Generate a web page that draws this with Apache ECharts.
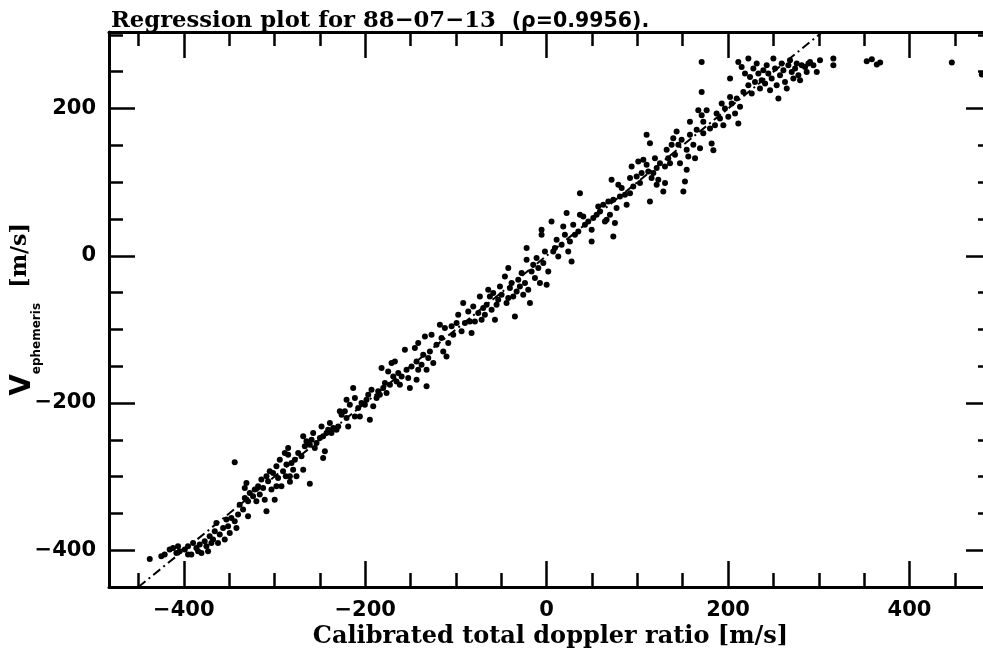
<!DOCTYPE html>
<html>
<head>
<meta charset="utf-8">
<script src="https://cdn.jsdelivr.net/npm/echarts@6/dist/echarts.min.js"></script>
<style>html,body{margin:0;padding:0;background:#fff}#c{width:983px;height:652px}</style>
</head>
<body>
<div id="c"></div>
<script>
// ---- data ----
const X_VALUES = [
-437.6,-343.9,-424.8,-421.1,-415.6,-411.9,-408.2,-404.5,-399.0,-395.4,-391.7,-389.8,-386.2,-382.5,-380.6,-377.0,-373.3,-371.5,-367.8,-365.9,
-364.1,-362.3,-360.4,-356.7,-354.9,-353.1,-351.2,-349.4,-347.6,-343.9,-342.0,-340.2,-338.4,-334.7,-332.8,-331.0,-329.2,-329.2,-327.3,-323.7,
-321.8,-320.0,-318.1,-316.3,-314.5,-312.6,-310.8,-308.9,-308.9,-307.1,-305.3,-303.4,-301.6,-299.8,-297.9,-296.1,-294.2,-292.4,-290.6,-288.7,
-286.9,-285.0,-287.6,-297.9,-332.8,-406.4,-395.4,-384.3,-375.1,-369.6,-261.1,-283.0,
-285.0,-283.1,-281.3,-279.5,-277.6,-275.8,-273.9,-270.3,-268.4,-268.4,-266.6,-264.8,-261.1,-259.2,-257.4,-255.6,-253.7,-250.0,-248.2,-246.4,
-246.4,-244.5,-242.7,-240.9,-239.0,-237.2,-235.3,-231.7,-229.8,-228.0,-226.1,-222.5,-220.6,-218.8,-220.6,-217.0,-213.3,-211.4,-211.4,-207.8,
-205.9,-204.1,-200.4,-198.6,-196.7,-194.9,-193.1,-191.2,-187.5,-185.7,-183.9,-182.0,-180.2,-178.3,-176.5,-174.7,-172.8,-171.0,-169.1,-167.3,
-165.5,-163.6,-161.8,-159.9,-156.3,-154.4,-152.6,-150.8,-148.9,-145.3,-143.4,-143.4,-141.6,-137.9,-136.1,-134.2,-132.4,-130.5,-132.4,
-141.6,-128.7,-126.9,-125.0,-121.4,-117.7,-115.9,-114.0,-112.2,-110.4,-108.5,-104.8,-103.0,-99.3,-97.5,-93.8,-92.0,-90.1,-86.4,-84.6,
-82.8,-80.9,-79.1,-75.4,-73.6,-71.7,-69.9,-68.1,-66.2,-64.4,-62.6,-60.7,-58.9,-57.0,-55.2,-53.4,-51.5,-49.7,-46.0,-44.2,
-42.3,-42.3,-40.5,-38.7,-36.8,-35.0,-33.1,-31.3,-29.5,-27.6,-25.8,-23.9,-22.1,-22.1,-20.3,-18.4,-16.6,-14.8,-12.9,-11.1,
-9.2,-7.4,-5.6,-5.6,-3.7,-1.9,0.0,1.8,
5.4,7.3,9.1,11.0,12.8,16.5,18.3,20.1,22.0,23.8,25.7,27.5,29.3,31.2,34.9,36.7,36.7,40.4,42.2,45.9,
49.6,49.6,51.4,55.1,56.9,58.8,62.4,64.3,66.1,68.0,69.8,71.6,73.5,73.5,75.3,77.1,79.0,80.8,82.7,86.3,
88.2,91.9,91.9,93.7,95.5,99.2,101.0,102.9,104.7,106.6,110.2,112.1,113.9,115.7,117.6,119.4,121.3,121.3,123.1,124.9,
128.6,130.5,130.5,132.3,134.1,136.0,137.8,139.6,141.5,143.3,145.2,147.0,148.8,150.7,152.5,154.4,154.4,156.2,158.0,161.7,
163.6,165.4,169.1,172.7,110.2,113.9,
170.9,170.9,202.2,158.0,167.2,170.9,172.7,176.4,180.1,181.9,183.8,185.6,187.4,191.1,193.0,194.8,196.6,200.3,202.2,204.0,
207.7,209.5,211.3,213.2,211.3,215.0,216.9,218.7,222.4,222.4,224.2,226.1,227.9,229.7,231.6,233.4,235.2,237.1,238.9,240.8,
242.6,244.4,246.3,248.1,250.0,251.8,253.6,255.5,257.3,259.1,261.0,262.8,264.7,266.5,268.3,270.2,272.0,273.9,275.7,277.5,
279.4,281.2,284.9,286.7,288.6,290.4,294.1,297.8,301.4,316.1,316.1,
352.9,358.5,364.0,367.7,446.7,479.8
];
const Y_VALUES = [
-411.8,-280.6,-408.2,-406.0,-399.2,-396.9,-403.7,-401.4,-399.2,-394.6,-406.0,-390.1,-396.9,-392.4,-403.7,-387.8,-401.4,-381.1,-385.6,-374.3,
-363.0,-390.1,-378.8,-369.7,-385.6,-358.4,-367.5,-376.5,-356.2,-360.7,-369.7,-351.6,-338.1,-344.8,-329.0,-308.6,-353.9,-333.5,-322.2,-326.7,
-317.7,-333.5,-313.2,-324.5,-304.1,-315.4,-331.3,-299.6,-347.1,-306.4,-292.8,-317.7,-295.1,-331.3,-286.0,-301.9,-277.0,-313.2,-292.8,-267.9,
-283.7,-261.1,-299.6,-313.2,-315.4,-394.6,-406.0,-401.4,-394.6,-390.1,-309.6,-307.0,
-270.2,-299.6,-281.5,-290.6,-277.0,-299.6,-268.0,-272.5,-290.6,-245.3,-258.9,-252.1,-256.6,-249.9,-240.8,-261.2,-254.4,-247.6,-231.8,-245.3,
-274.8,-265.7,-240.8,-236.3,-227.2,-240.8,-234.0,-236.3,-231.8,-211.4,-215.9,-211.4,-220.4,-231.8,-195.5,-202.3,-179.7,-193.3,-218.2,-206.9,
-218.2,-200.1,-202.3,-195.5,-188.8,-222.7,-182.0,-204.6,-193.3,-184.2,-188.8,-152.5,-179.7,-172.9,-186.5,-157.1,-175.2,-145.8,-163.9,-143.5,
-170.7,-159.3,-175.2,-163.9,-127.7,-154.8,-166.1,-179.7,-150.3,-125.4,-143.5,-168.4,-154.8,-148.0,-134.4,-109.6,-154.8,-139.0,-177.4,
-118.6,-129.9,-107.3,-145.7,-120.8,-93.7,-111.8,-129.9,-98.2,-136.7,-118.6,-95.9,-107.3,-91.4,-80.1,-102.7,-64.3,-91.4,-75.6,-89.2,
-105.0,-68.8,-89.2,-77.8,-55.2,-86.9,-71.1,-80.1,-66.5,-46.2,-55.2,-73.3,-50.7,-86.9,-66.5,-59.7,-41.6,-52.9,-28.1,-64.3,
-57.5,-16.7,-43.9,-37.1,-55.2,-82.4,-48.4,-32.6,-41.6,-23.5,-52.9,-37.1,10.4,-5.4,-46.2,-64.3,-21.3,-12.2,-30.3,-3.2,
-16.7,-37.1,35.3,28.5,-9.9,5.9,-39.4,-21.3,
46.6,5.9,10.4,21.7,-0.9,15.0,39.9,28.5,58.0,5.9,19.5,-7.7,42.1,28.5,33.1,85.1,55.7,53.4,42.1,46.6,
35.3,19.5,51.2,55.7,67.0,60.2,69.3,46.6,48.9,73.8,55.7,103.2,76.1,26.3,44.4,64.8,96.4,80.6,91.9,82.9,
69.3,105.5,85.1,121.3,94.2,107.7,128.1,98.7,112.3,130.4,123.6,114.5,73.8,105.5,112.3,132.6,119.1,96.4,103.2,125.8,
87.4,98.7,121.3,143.9,132.6,125.8,150.7,159.8,137.2,168.8,150.7,125.8,157.5,87.4,101.0,116.8,143.9,134.9,164.3,150.7,
132.6,171.1,146.2,166.6,164.3,153.0,
263.4,222.6,240.7,181.9,197.7,190.9,181.9,197.7,172.8,152.5,143.4,177.4,193.2,186.4,206.8,177.4,200.0,188.7,215.8,206.8,
193.2,213.6,179.6,202.3,263.4,256.6,222.6,247.5,267.9,231.7,243.0,220.4,254.3,236.2,261.1,247.5,227.2,238.5,252.0,233.9,
258.8,247.5,224.9,240.7,267.9,254.3,231.7,213.6,245.2,261.1,252.0,236.2,227.2,258.8,265.6,249.8,240.7,254.3,261.1,245.2,
238.5,258.8,256.6,249.8,261.1,263.4,258.8,249.8,265.6,267.9,258.8,
264.3,267.0,259.7,262.5,262.5,246.2
];
// regression line (end points)
const LINE_X = [-450, 304];
const LINE_Y = [-450, 304];
// axes
const X_RANGE = [-482.5, 491];
const Y_RANGE = [-450, 304];
const X_MAJOR = [-400, -200, 0, 200, 400];
const X_MINOR = [-450, -350, -300, -250, -150, -100, -50, 50, 100, 150, 250, 300, 350, 450];
const Y_MAJOR = [-400, -200, 0, 200];
const Y_MINOR = [-350, -300, -250, -150, -100, -50, 50, 100, 150, 250, 300];
const TITLE_MAIN = 'Regression plot for 88\u221207\u221213';
const TITLE_RHO = '(\u03c1=0.9956).';
const X_NAME = 'Calibrated total doppler ratio [m/s]';

const points = X_VALUES.map((x, i) => [x, Y_VALUES[i]]);
const linePts = LINE_X.map((x, i) => [x, LINE_Y[i]]);

const fmt = v => String(v).replace('-', '\u2212');
const labelFont = { fontFamily: 'DejaVu Sans', fontWeight: 'bold', fontSize: 21, color: '#000' };
const lineW = 3;

function axisSet(pos, range, major, minor, withLabel, extra) {
  const base = { type: 'value', position: pos, min: range[0], max: range[1], splitLine: { show: false } };
  const majorAxis = Object.assign({}, base, {
    axisLine: { show: true, onZero: false, lineStyle: { color: '#000', width: lineW } },
    axisTick: { show: true, inside: true, customValues: major, length: 26, lineStyle: { color: '#000', width: 2.5 } },
    axisLabel: withLabel ? Object.assign({ show: true, customValues: major, formatter: fmt, margin: 13 }, labelFont) : { show: false }
  }, extra || {});
  const minorAxis = Object.assign({}, base, {
    axisLine: { show: false, onZero: false },
    axisTick: { show: true, inside: true, customValues: minor, length: 14, lineStyle: { color: '#000', width: 2.5 } },
    axisLabel: { show: false }
  });
  return [majorAxis, minorAxis];
}

const xAxes = axisSet('bottom', X_RANGE, X_MAJOR, X_MINOR, true, {
  name: X_NAME, nameLocation: 'middle', nameGap: 38, nameMoveOverlap: false,
  nameTextStyle: { fontFamily: 'DejaVu Serif', fontWeight: 'bold', fontSize: 24, color: '#000' }
}).concat(axisSet('top', X_RANGE, X_MAJOR, X_MINOR, false));

const yAxes = axisSet('left', Y_RANGE, Y_MAJOR, Y_MINOR, true, {
  name: '{v|V}{s|ephemeris}{m|  [m/s]}', nameLocation: 'middle', nameRotate: 90, nameGap: 66, nameMoveOverlap: false,
  nameTextStyle: {
    rich: {
      v: { fontFamily: 'DejaVu Sans', fontWeight: 'bold', fontSize: 28, color: '#000', lineHeight: 34, verticalAlign: 'top' },
      s: { fontFamily: 'DejaVu Sans', fontWeight: 'bold', fontSize: 12, color: '#000', lineHeight: 34, verticalAlign: 'bottom' },
      m: { fontFamily: 'DejaVu Serif', fontWeight: 'bold', fontSize: 22, color: '#000', lineHeight: 34, verticalAlign: 'top' }
    }
  }
}).concat(axisSet('right', Y_RANGE, Y_MAJOR, Y_MINOR, false));

const chart = echarts.init(document.getElementById('c'), null, { renderer: 'canvas' });
chart.setOption({
  animation: false,
  backgroundColor: '#fff',
  title: {
    text: '{a|' + TITLE_MAIN + '}{g| }{b|' + TITLE_RHO + '}',
    left: 111, top: 10, padding: 0,
    textStyle: {
      rich: {
        a: { fontFamily: 'DejaVu Serif', fontWeight: 'bold', fontSize: 22.7, color: '#000' },
        g: { fontSize: 20, width: 16 },
        b: { fontFamily: 'DejaVu Sans', fontWeight: 'bold', fontSize: 20.5, color: '#000' }
      }
    }
  },
  grid: { left: 109, right: -9, top: 32, bottom: 65, outerBoundsMode: 'none', containLabel: false },
  xAxis: xAxes,
  yAxis: yAxes,
  series: [
    {
      type: 'scatter', xAxisIndex: 0, yAxisIndex: 0, data: points,
      symbol: 'circle', symbolSize: 6, itemStyle: { color: '#000', opacity: 1 }, silent: true
    },
    {
      type: 'line', xAxisIndex: 0, yAxisIndex: 0, data: linePts, symbol: 'none', silent: true,
      lineStyle: { color: '#000', width: 2, type: [9, 4, 2, 4] }, clip: true
    }
  ]
});
</script>
</body>
</html>
